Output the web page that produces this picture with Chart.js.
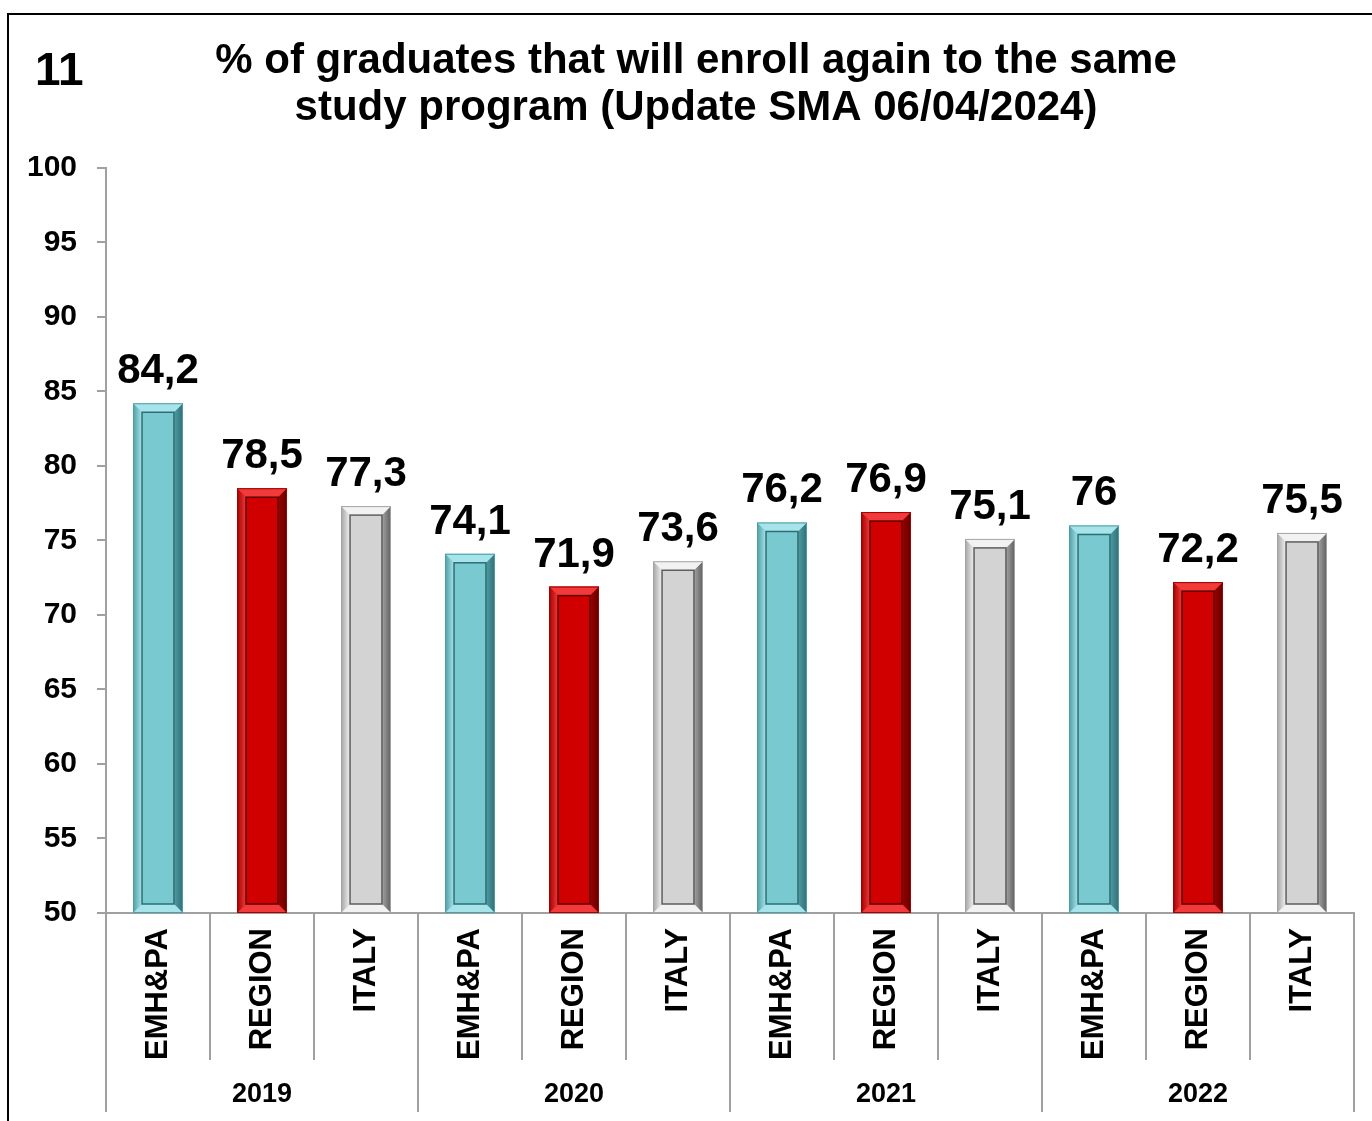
<!DOCTYPE html>
<html>
<head>
<meta charset="utf-8">
<title>% of graduates that will enroll again</title>
<script src="https://cdn.jsdelivr.net/npm/chart.js"></script>
<style>
  html, body { margin: 0; padding: 0; background: #fff; }
  #wrap { width: 1372px; height: 1121px; position: relative; }
</style>
</head>
<body>
<div id="wrap"><canvas id="chart"></canvas></div>
<script>
// data
var categories = ["EMH&PA", "REGION", "ITALY", "EMH&PA", "REGION", "ITALY",
                  "EMH&PA", "REGION", "ITALY", "EMH&PA", "REGION", "ITALY"];
var years = ["2019", "2020", "2021", "2022"];
var values = [84.2, 78.5, 77.3, 74.1, 71.9, 73.6, 76.2, 76.9, 75.1, 76, 72.2, 75.5];
var yTicks = [50, 55, 60, 65, 70, 75, 80, 85, 90, 95, 100];

var FONT = "'Liberation Sans', Arial, sans-serif";

// colours per series: face, top/bottom bevel, left bevel, right bevel
var palette = [
    { face: "#79c9d1", light: "#a6e4ea", mid: "#4f9ea6", dark: "#2f6e74" },
    { face: "#d00000", light: "#f23a3a", mid: "#a00000", dark: "#600000" },
    { face: "#d3d3d3", light: "#f2f2f2", mid: "#a4a4a4", dark: "#5e5e5e" }
];

function fmt(v) {
    return String(v).replace(".", ",");
}

// frame, "11", bevels, value labels and the year groups
var decorPlugin = {
    id: "decor",
    afterLayout: function (chart) {
        // let the "100" label use the space left of the axis box
        var ys = chart.scales.y;
        ys.width = ys.right;
        ys.left = 0;
    },
    beforeDraw: function (chart) {
        var ctx = chart.ctx;
        ctx.save();
        ctx.strokeStyle = "#000";
        ctx.lineWidth = 2;
        ctx.beginPath();
        ctx.moveTo(8, chart.height + 5);
        ctx.lineTo(8, 14);
        ctx.lineTo(chart.width + 5, 14);
        ctx.stroke();
        ctx.fillStyle = "#000";
        ctx.font = "bold 46px " + FONT;
        ctx.textBaseline = "alphabetic";
        ctx.textAlign = "left";
        ctx.fillText("11", 35, 85);
        ctx.restore();
    },
    afterDatasetsDraw: function (chart) {
        var ctx = chart.ctx;
        var meta = chart.getDatasetMeta(0);
        var bottom = chart.chartArea.bottom;
        ctx.save();
        meta.data.forEach(function (bar, i) {
            var p = bar.getProps(["x", "y", "base", "width"], true);
            var c = palette[i % 3];
            var l = p.x - p.width / 2, r = p.x + p.width / 2;
            var t = p.y, b = Math.min(p.base, bottom), e = 9;

            function poly(pts, fill) {
                ctx.beginPath();
                ctx.moveTo(pts[0][0], pts[0][1]);
                for (var k = 1; k < pts.length; k++) ctx.lineTo(pts[k][0], pts[k][1]);
                ctx.closePath();
                ctx.fillStyle = fill;
                ctx.fill();
            }

            var gl = ctx.createLinearGradient(l, 0, l + e, 0);
            gl.addColorStop(0, c.mid);
            gl.addColorStop(1, c.light);
            var gr = ctx.createLinearGradient(r - e, 0, r, 0);
            gr.addColorStop(0, c.mid);
            gr.addColorStop(1, c.dark);

            poly([[l, t], [l + e, t + e], [l + e, b - e], [l, b]], gl);
            poly([[r, t], [r, b], [r - e, b - e], [r - e, t + e]], gr);
            poly([[l, t], [r, t], [r - e, t + e], [l + e, t + e]], c.light);
            poly([[l, b], [r, b], [r - e, b - e], [l + e, b - e]], c.light);

            ctx.strokeStyle = c.dark;
            ctx.lineWidth = 1.5;
            ctx.strokeRect(l + e, t + e, p.width - 2 * e, b - t - 2 * e);
            ctx.lineWidth = 1;
            ctx.strokeStyle = c.mid;
            ctx.strokeRect(l + 0.5, t + 0.5, p.width - 1, b - t - 1);

            ctx.fillStyle = "#000";
            ctx.font = "bold 42px " + FONT;
            ctx.textAlign = "center";
            ctx.textBaseline = "alphabetic";
            ctx.fillText(fmt(values[i]), p.x, t - 20);
        });
        ctx.restore();
    },
    afterDraw: function (chart) {
        var ctx = chart.ctx;
        var xs = chart.scales.x;
        var step = xs.getPixelForValue(1) - xs.getPixelForValue(0);
        var y0 = chart.chartArea.bottom;
        ctx.save();
        ctx.strokeStyle = "#a0a0a0";
        ctx.lineWidth = 2;
        for (var i = 0; i <= categories.length; i++) {
            var px = Math.round(xs.getPixelForValue(0) - step / 2 + i * step);
            ctx.beginPath();
            ctx.moveTo(px, y0);
            ctx.lineTo(px, i % 3 === 0 ? 1112 : 1060);
            ctx.stroke();
        }
        ctx.fillStyle = "#000";
        ctx.font = "bold 27px " + FONT;
        ctx.textAlign = "center";
        ctx.textBaseline = "middle";
        years.forEach(function (yr, g) {
            var cx = xs.getPixelForValue(g * 3 + 1);
            ctx.fillText(yr, cx, 1095);
        });
        ctx.restore();
    }
};

new Chart(document.getElementById("chart"), {
    type: "bar",
    data: {
        labels: categories,
        datasets: [{
            data: values,
            backgroundColor: values.map(function (v, i) { return palette[i % 3].face; }),
            borderWidth: 0,
            barPercentage: 0.48,
            categoryPercentage: 1
        }]
    },
    options: {
        responsive: true,
        maintainAspectRatio: false,
        animation: false,
        layout: { padding: { left: 38, right: 18, top: 0, bottom: 0 } },
        plugins: {
            legend: { display: false },
            tooltip: { enabled: false },
            title: {
                display: true,
                text: ["% of graduates that will enroll again to the same",
                       "study program (Update SMA 06/04/2024)"],
                color: "#000",
                font: { family: FONT, size: 42, weight: "bold", lineHeight: 1.14 },
                padding: { top: 37, bottom: 35 }
            }
        },
        scales: {
            x: {
                grid: { display: false, drawTicks: false },
                border: { display: true, color: "#a0a0a0", width: 2 },
                ticks: {
                    color: "#000",
                    font: { family: FONT, size: 31, weight: "bold" },
                    minRotation: 90,
                    maxRotation: 90,
                    padding: 15,
                    autoSkip: false
                },
                afterFit: function (scale) { scale.height = 208; }
            },
            y: {
                min: 50,
                max: 100,
                afterBuildTicks: function (scale) {
                    scale.ticks = yTicks.map(function (v) { return { value: v }; });
                },
                grid: { drawOnChartArea: false, drawTicks: true, tickLength: 9, color: "#a0a0a0", lineWidth: 2 },
                border: { display: true, color: "#a0a0a0", width: 2 },
                ticks: {
                    color: "#000",
                    font: { family: FONT, size: 30, weight: "bold" },
                    padding: 20
                },
                afterFit: function (scale) { scale.width = 68; }
            }
        }
    },
    plugins: [decorPlugin]
});
</script>
</body>
</html>
